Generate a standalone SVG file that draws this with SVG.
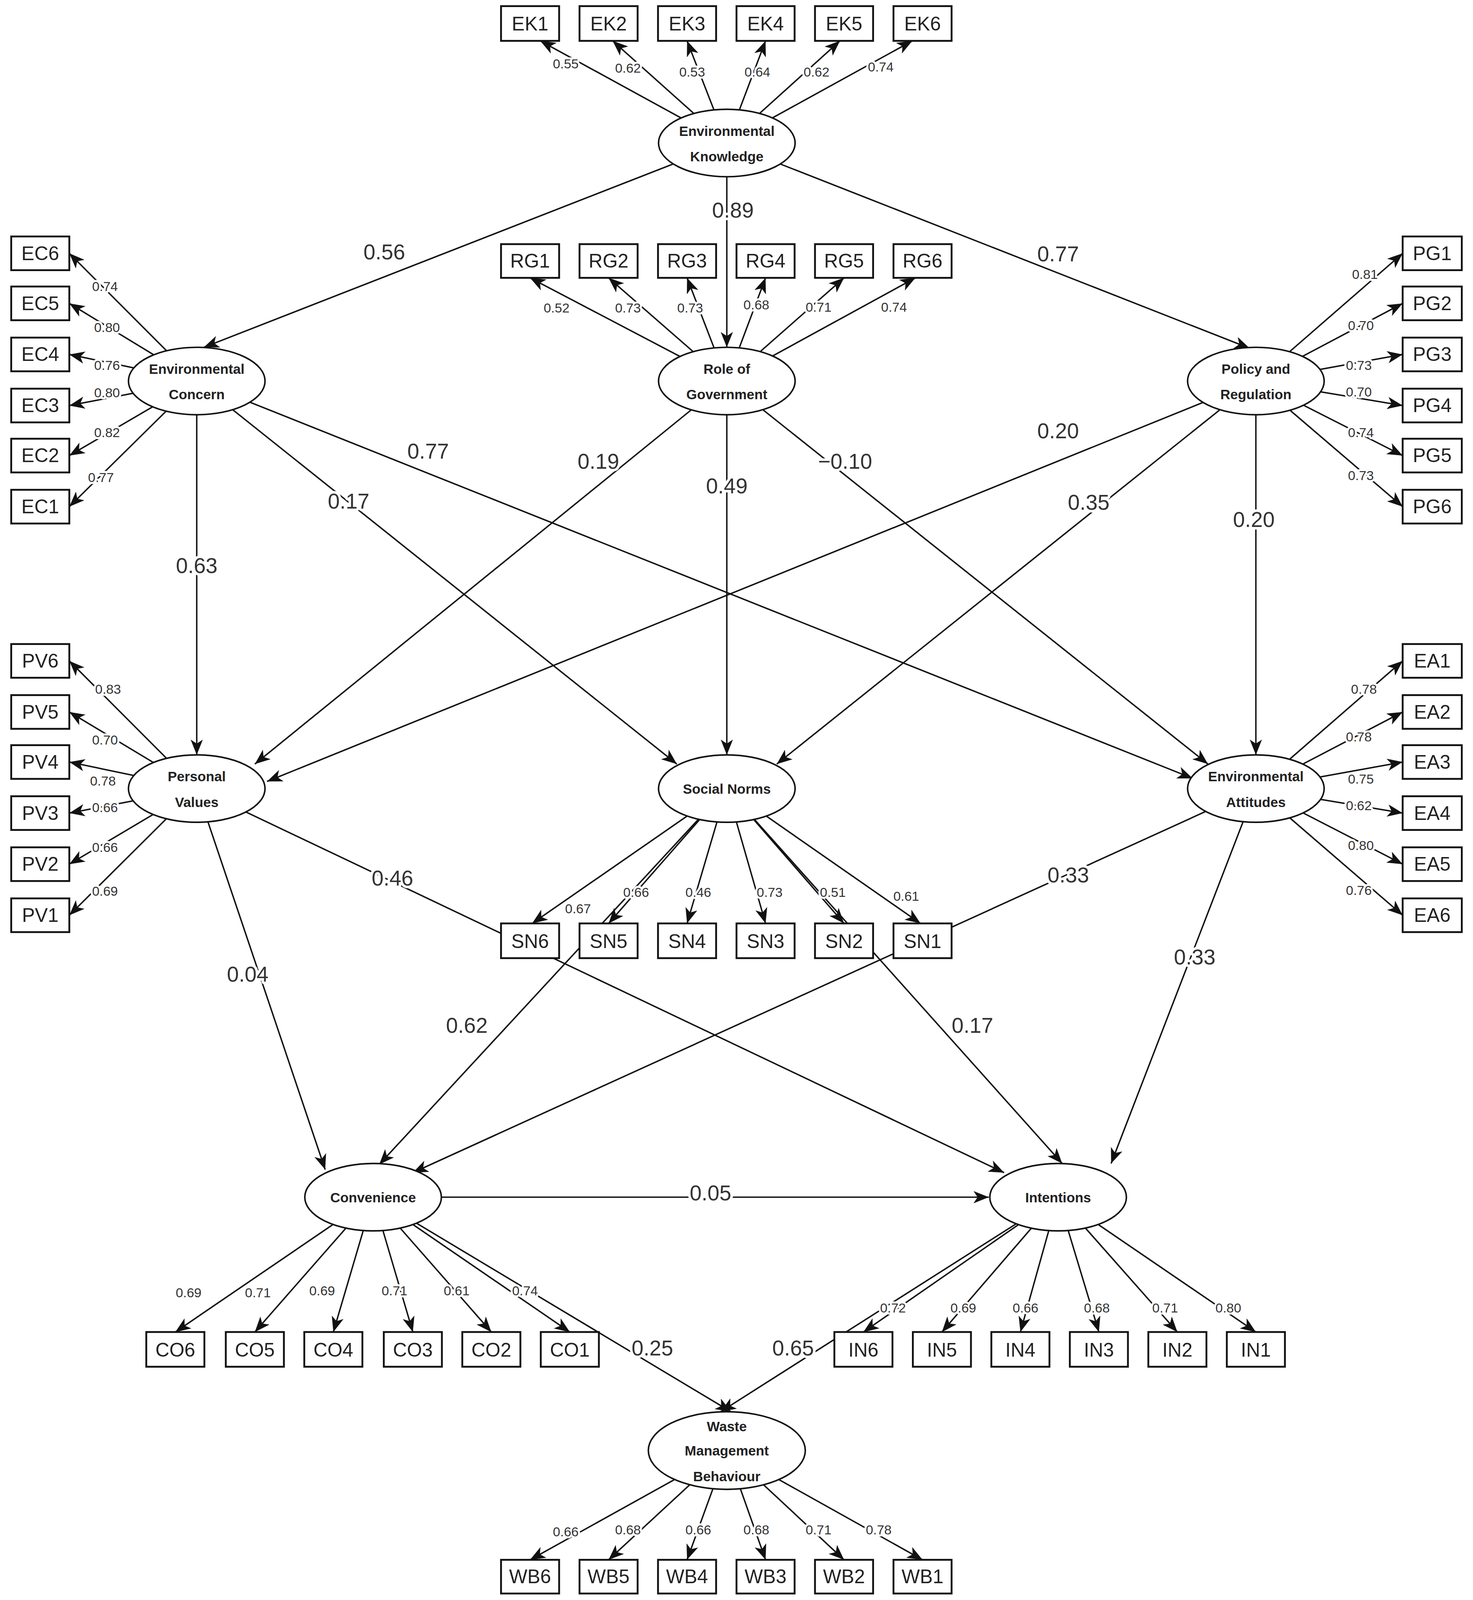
<svg xmlns="http://www.w3.org/2000/svg" width="3770" height="4100" viewBox="0 0 3770 4100">
<style>
.c{stroke:#111;stroke-width:1.4;fill:none;marker-end:url(#a)}
.l{font-family:"Liberation Sans",Arial,sans-serif;font-size:13px;fill:#333;text-anchor:middle;paint-order:stroke;stroke:#fff;stroke-width:4px;stroke-linejoin:round}
.L{font-family:"Liberation Sans",Arial,sans-serif;font-size:21px;fill:#333;text-anchor:middle;paint-order:stroke;stroke:#fff;stroke-width:5px;stroke-linejoin:round}
.b{fill:#fff;stroke:#111;stroke-width:1.8}
.bt{font-family:"Liberation Sans",Arial,sans-serif;font-size:19px;fill:#222;text-anchor:middle}
.e{fill:#fff;stroke:#111;stroke-width:1.5}
.et{font-family:"Liberation Sans",Arial,sans-serif;font-size:13.5px;font-weight:bold;fill:#222;text-anchor:middle}
</style>
<defs><marker id="a" markerUnits="userSpaceOnUse" markerWidth="16" markerHeight="12" refX="15" refY="6" orient="auto"><path d="M0,0 L15,6 L0,12 L4,6 Z" fill="#111"/></marker></defs>
<rect width="3770" height="4100" fill="#fff"/>
<g transform="scale(2.609 2.615)">
<g id="connectors">
<!-- structural -->
<line class="c" x1="713" y1="140" x2="200" y2="340"/><text class="L" x="377" y="254">0.56</text>
<line class="c" x1="713" y1="140" x2="713" y2="340"/><text class="L" x="719" y="213">0.89</text>
<line class="c" x1="713" y1="140" x2="1226" y2="341"/><text class="L" x="1038" y="256">0.77</text>
<line class="c" x1="193" y1="373" x2="193" y2="739"/><text class="L" x="193" y="561">0.63</text>
<line class="c" x1="193" y1="373" x2="664" y2="748"/><text class="L" x="342" y="498">0.17</text>
<line class="c" x1="193" y1="373" x2="1170" y2="762"/><text class="L" x="420" y="449">0.77</text>
<line class="c" x1="713" y1="373" x2="250" y2="748"/><text class="L" x="587" y="459">0.19</text>
<line class="c" x1="713" y1="373" x2="713" y2="739"/><text class="L" x="713" y="483">0.49</text>
<line class="c" x1="713" y1="373" x2="1185" y2="748"/><text class="L" x="829" y="459">−0.10</text>
<line class="c" x1="1232" y1="373" x2="262" y2="765"/><text class="L" x="1038" y="429">0.20</text>
<line class="c" x1="1232" y1="373" x2="762" y2="748"/><text class="L" x="1068" y="499">0.35</text>
<line class="c" x1="1232" y1="373" x2="1232" y2="739"/><text class="L" x="1230" y="516">0.20</text>
<line class="c" x1="193" y1="772" x2="319" y2="1145"/><text class="L" x="243" y="961">0.04</text>
<line class="c" x1="193" y1="772" x2="985" y2="1148"/><text class="L" x="385" y="867">0.46</text>
<line class="c" x1="713" y1="772" x2="372" y2="1140"/><text class="L" x="458" y="1011">0.62</text>
<line class="c" x1="713" y1="772" x2="1042" y2="1139"/><text class="L" x="954" y="1011">0.17</text>
<line class="c" x1="1232" y1="772" x2="405" y2="1148"/><text class="L" x="1048" y="864">0.33</text>
<line class="c" x1="1232" y1="772" x2="1090" y2="1139"/><text class="L" x="1172" y="944">0.33</text>
<line class="c" x1="366" y1="1172" x2="970" y2="1172"/><text class="L" x="697" y="1175">0.05</text>
<line class="c" x1="366" y1="1172" x2="717" y2="1382"/><text class="L" x="640" y="1327">0.25</text>
<line class="c" x1="1038" y1="1172" x2="707" y2="1382"/><text class="L" x="778" y="1327">0.65</text>
<!-- EK -->
<line class="c" x1="713" y1="140" x2="530" y2="40"/><line class="c" x1="713" y1="140" x2="601" y2="40"/><line class="c" x1="713" y1="140" x2="674" y2="40"/><line class="c" x1="713" y1="140" x2="751" y2="40"/><line class="c" x1="713" y1="140" x2="824" y2="40"/><line class="c" x1="713" y1="140" x2="895" y2="40"/>
<text class="l" x="555" y="67">0.55</text><text class="l" x="616" y="71">0.62</text><text class="l" x="679" y="75">0.53</text><text class="l" x="743" y="75">0.64</text><text class="l" x="801" y="75">0.62</text><text class="l" x="864" y="70">0.74</text>
<!-- RG -->
<line class="c" x1="713" y1="373" x2="520" y2="272"/><line class="c" x1="713" y1="373" x2="597" y2="272"/><line class="c" x1="713" y1="373" x2="674" y2="272"/><line class="c" x1="713" y1="373" x2="751" y2="272"/><line class="c" x1="713" y1="373" x2="828" y2="272"/><line class="c" x1="713" y1="373" x2="898" y2="272"/>
<text class="l" x="546" y="306">0.52</text><text class="l" x="616" y="306">0.73</text><text class="l" x="677" y="306">0.73</text><text class="l" x="742" y="303">0.68</text><text class="l" x="803" y="305">0.71</text><text class="l" x="877" y="305">0.74</text>
<!-- SN -->
<line class="c" x1="713" y1="772" x2="522" y2="904"/><line class="c" x1="713" y1="772" x2="597" y2="904"/><line class="c" x1="713" y1="772" x2="674" y2="904"/><line class="c" x1="713" y1="772" x2="751" y2="904"/><line class="c" x1="713" y1="772" x2="828" y2="904"/><line class="c" x1="713" y1="772" x2="903" y2="904"/>
<text class="l" x="567" y="894">0.67</text><text class="l" x="624" y="878">0.66</text><text class="l" x="685" y="878">0.46</text><text class="l" x="755" y="878">0.73</text><text class="l" x="817" y="878">0.51</text><text class="l" x="889" y="882">0.61</text>
<!-- WB -->
<line class="c" x1="713" y1="1420" x2="520" y2="1527"/><line class="c" x1="713" y1="1420" x2="597" y2="1527"/><line class="c" x1="713" y1="1420" x2="674" y2="1527"/><line class="c" x1="713" y1="1420" x2="751" y2="1527"/><line class="c" x1="713" y1="1420" x2="828" y2="1527"/><line class="c" x1="713" y1="1420" x2="905" y2="1527"/>
<text class="l" x="555" y="1504">0.66</text><text class="l" x="616" y="1502">0.68</text><text class="l" x="685" y="1502">0.66</text><text class="l" x="742" y="1502">0.68</text><text class="l" x="803" y="1502">0.71</text><text class="l" x="862" y="1502">0.78</text>
<!-- EC -->
<line class="c" x1="193" y1="373" x2="68" y2="248"/><line class="c" x1="193" y1="373" x2="68" y2="297"/><line class="c" x1="193" y1="373" x2="68" y2="347"/><line class="c" x1="193" y1="373" x2="68" y2="397"/><line class="c" x1="193" y1="373" x2="68" y2="446"/><line class="c" x1="193" y1="373" x2="68" y2="496"/>
<text class="l" x="103" y="285">0.74</text><text class="l" x="105" y="325">0.80</text><text class="l" x="105" y="362">0.76</text><text class="l" x="105" y="389">0.80</text><text class="l" x="105" y="428">0.82</text><text class="l" x="99" y="472">0.77</text>
<!-- PV -->
<line class="c" x1="193" y1="772" x2="68" y2="647"/><line class="c" x1="193" y1="772" x2="68" y2="697"/><line class="c" x1="193" y1="772" x2="68" y2="746"/><line class="c" x1="193" y1="772" x2="68" y2="796"/><line class="c" x1="193" y1="772" x2="68" y2="846"/><line class="c" x1="193" y1="772" x2="68" y2="896"/>
<text class="l" x="106" y="679">0.83</text><text class="l" x="103" y="729">0.70</text><text class="l" x="101" y="769">0.78</text><text class="l" x="103" y="795">0.66</text><text class="l" x="103" y="834">0.66</text><text class="l" x="103" y="877">0.69</text>
<!-- PG -->
<line class="c" x1="1232" y1="373" x2="1376" y2="248"/><line class="c" x1="1232" y1="373" x2="1376" y2="297"/><line class="c" x1="1232" y1="373" x2="1376" y2="347"/><line class="c" x1="1232" y1="373" x2="1376" y2="397"/><line class="c" x1="1232" y1="373" x2="1376" y2="446"/><line class="c" x1="1232" y1="373" x2="1376" y2="496"/>
<text class="l" x="1339" y="273">0.81</text><text class="l" x="1335" y="323">0.70</text><text class="l" x="1333" y="362">0.73</text><text class="l" x="1333" y="388">0.70</text><text class="l" x="1335" y="428">0.74</text><text class="l" x="1335" y="470">0.73</text>
<!-- EA -->
<line class="c" x1="1232" y1="772" x2="1376" y2="647"/><line class="c" x1="1232" y1="772" x2="1376" y2="697"/><line class="c" x1="1232" y1="772" x2="1376" y2="746"/><line class="c" x1="1232" y1="772" x2="1376" y2="796"/><line class="c" x1="1232" y1="772" x2="1376" y2="846"/><line class="c" x1="1232" y1="772" x2="1376" y2="896"/>
<text class="l" x="1338" y="679">0.78</text><text class="l" x="1333" y="726">0.78</text><text class="l" x="1335" y="767">0.75</text><text class="l" x="1333" y="793">0.62</text><text class="l" x="1335" y="832">0.80</text><text class="l" x="1333" y="876">0.76</text>
<!-- CO -->
<line class="c" x1="366" y1="1172" x2="172" y2="1304"/><line class="c" x1="366" y1="1172" x2="250" y2="1304"/><line class="c" x1="366" y1="1172" x2="327" y2="1304"/><line class="c" x1="366" y1="1172" x2="405" y2="1304"/><line class="c" x1="366" y1="1172" x2="482" y2="1304"/><line class="c" x1="366" y1="1172" x2="559" y2="1304"/>
<text class="l" x="185" y="1270">0.69</text><text class="l" x="253" y="1270">0.71</text><text class="l" x="316" y="1268">0.69</text><text class="l" x="387" y="1268">0.71</text><text class="l" x="448" y="1268">0.61</text><text class="l" x="515" y="1268">0.74</text>
<!-- IN -->
<line class="c" x1="1038" y1="1172" x2="847" y2="1304"/><line class="c" x1="1038" y1="1172" x2="924" y2="1304"/><line class="c" x1="1038" y1="1172" x2="1001" y2="1304"/><line class="c" x1="1038" y1="1172" x2="1078" y2="1304"/><line class="c" x1="1038" y1="1172" x2="1155" y2="1304"/><line class="c" x1="1038" y1="1172" x2="1232" y2="1304"/>
<text class="l" x="876" y="1285">0.72</text><text class="l" x="945" y="1285">0.69</text><text class="l" x="1006" y="1285">0.66</text><text class="l" x="1076" y="1285">0.68</text><text class="l" x="1143" y="1285">0.71</text><text class="l" x="1205" y="1285">0.80</text>
</g>
<g id="EK"><ellipse class="e" cx="713" cy="140" rx="67" ry="33"/><text class="et" x="713" y="133">Environmental</text><text class="et" x="713" y="158">Knowledge</text></g>
<g id="RG"><ellipse class="e" cx="713" cy="373" rx="67" ry="33"/><text class="et" x="713" y="366">Role of</text><text class="et" x="713" y="391">Government</text></g>
<g id="EC"><ellipse class="e" cx="193" cy="373" rx="67" ry="33"/><text class="et" x="193" y="366">Environmental</text><text class="et" x="193" y="391">Concern</text></g>
<g id="PG"><ellipse class="e" cx="1232" cy="373" rx="67" ry="33"/><text class="et" x="1232" y="366">Policy and</text><text class="et" x="1232" y="391">Regulation</text></g>
<g id="PV"><ellipse class="e" cx="193" cy="772" rx="67" ry="33"/><text class="et" x="193" y="765">Personal</text><text class="et" x="193" y="790">Values</text></g>
<g id="SN"><ellipse class="e" cx="713" cy="772" rx="67" ry="33"/><text class="et" x="713" y="777">Social Norms</text></g>
<g id="EA"><ellipse class="e" cx="1232" cy="772" rx="67" ry="33"/><text class="et" x="1232" y="765">Environmental</text><text class="et" x="1232" y="790">Attitudes</text></g>
<g id="CO"><ellipse class="e" cx="366" cy="1172" rx="67" ry="33"/><text class="et" x="366" y="1177">Convenience</text></g>
<g id="IN"><ellipse class="e" cx="1038" cy="1172" rx="67" ry="33"/><text class="et" x="1038" y="1177">Intentions</text></g>
<g id="WB"><ellipse class="e" cx="713" cy="1420" rx="77" ry="38"/><text class="et" x="713" y="1401">Waste</text><text class="et" x="713" y="1425">Management</text><text class="et" x="713" y="1450">Behaviour</text></g>
<g id="indicators">
<g id="EK1"><rect class="b" x="491.5" y="6" width="57" height="34"/><text class="bt" x="520" y="30">EK1</text></g>
<g id="EK2"><rect class="b" x="568.5" y="6" width="57" height="34"/><text class="bt" x="597" y="30">EK2</text></g>
<g id="EK3"><rect class="b" x="645.5" y="6" width="57" height="34"/><text class="bt" x="674" y="30">EK3</text></g>
<g id="EK4"><rect class="b" x="722.5" y="6" width="57" height="34"/><text class="bt" x="751" y="30">EK4</text></g>
<g id="EK5"><rect class="b" x="799.5" y="6" width="57" height="34"/><text class="bt" x="828" y="30">EK5</text></g>
<g id="EK6"><rect class="b" x="876.5" y="6" width="57" height="34"/><text class="bt" x="905" y="30">EK6</text></g>
<g id="RG1"><rect class="b" x="491.5" y="239" width="57" height="33"/><text class="bt" x="520" y="262">RG1</text></g>
<g id="RG2"><rect class="b" x="568.5" y="239" width="57" height="33"/><text class="bt" x="597" y="262">RG2</text></g>
<g id="RG3"><rect class="b" x="645.5" y="239" width="57" height="33"/><text class="bt" x="674" y="262">RG3</text></g>
<g id="RG4"><rect class="b" x="722.5" y="239" width="57" height="33"/><text class="bt" x="751" y="262">RG4</text></g>
<g id="RG5"><rect class="b" x="799.5" y="239" width="57" height="33"/><text class="bt" x="828" y="262">RG5</text></g>
<g id="RG6"><rect class="b" x="876.5" y="239" width="57" height="33"/><text class="bt" x="905" y="262">RG6</text></g>
<g id="SN6"><rect class="b" x="491.5" y="904" width="57" height="34"/><text class="bt" x="520" y="928">SN6</text></g>
<g id="SN5"><rect class="b" x="568.5" y="904" width="57" height="34"/><text class="bt" x="597" y="928">SN5</text></g>
<g id="SN4"><rect class="b" x="645.5" y="904" width="57" height="34"/><text class="bt" x="674" y="928">SN4</text></g>
<g id="SN3"><rect class="b" x="722.5" y="904" width="57" height="34"/><text class="bt" x="751" y="928">SN3</text></g>
<g id="SN2"><rect class="b" x="799.5" y="904" width="57" height="34"/><text class="bt" x="828" y="928">SN2</text></g>
<g id="SN1"><rect class="b" x="876.5" y="904" width="57" height="34"/><text class="bt" x="905" y="928">SN1</text></g>
<g id="WB6"><rect class="b" x="491.5" y="1527" width="57" height="33"/><text class="bt" x="520" y="1550">WB6</text></g>
<g id="WB5"><rect class="b" x="568.5" y="1527" width="57" height="33"/><text class="bt" x="597" y="1550">WB5</text></g>
<g id="WB4"><rect class="b" x="645.5" y="1527" width="57" height="33"/><text class="bt" x="674" y="1550">WB4</text></g>
<g id="WB3"><rect class="b" x="722.5" y="1527" width="57" height="33"/><text class="bt" x="751" y="1550">WB3</text></g>
<g id="WB2"><rect class="b" x="799.5" y="1527" width="57" height="33"/><text class="bt" x="828" y="1550">WB2</text></g>
<g id="WB1"><rect class="b" x="876.5" y="1527" width="57" height="33"/><text class="bt" x="905" y="1550">WB1</text></g>
<g id="EC6"><rect class="b" x="11" y="231.5" width="57" height="33"/><text class="bt" x="39.5" y="254.5">EC6</text></g>
<g id="EC5"><rect class="b" x="11" y="280.5" width="57" height="33"/><text class="bt" x="39.5" y="303.5">EC5</text></g>
<g id="EC4"><rect class="b" x="11" y="330.5" width="57" height="33"/><text class="bt" x="39.5" y="353.5">EC4</text></g>
<g id="EC3"><rect class="b" x="11" y="380.5" width="57" height="33"/><text class="bt" x="39.5" y="403.5">EC3</text></g>
<g id="EC2"><rect class="b" x="11" y="429.5" width="57" height="33"/><text class="bt" x="39.5" y="452.5">EC2</text></g>
<g id="EC1"><rect class="b" x="11" y="479.5" width="57" height="33"/><text class="bt" x="39.5" y="502.5">EC1</text></g>
<g id="PV6"><rect class="b" x="11" y="630.5" width="57" height="33"/><text class="bt" x="39.5" y="653.5">PV6</text></g>
<g id="PV5"><rect class="b" x="11" y="680.5" width="57" height="33"/><text class="bt" x="39.5" y="703.5">PV5</text></g>
<g id="PV4"><rect class="b" x="11" y="729.5" width="57" height="33"/><text class="bt" x="39.5" y="752.5">PV4</text></g>
<g id="PV3"><rect class="b" x="11" y="779.5" width="57" height="33"/><text class="bt" x="39.5" y="802.5">PV3</text></g>
<g id="PV2"><rect class="b" x="11" y="829.5" width="57" height="33"/><text class="bt" x="39.5" y="852.5">PV2</text></g>
<g id="PV1"><rect class="b" x="11" y="879.5" width="57" height="33"/><text class="bt" x="39.5" y="902.5">PV1</text></g>
<g id="PG1"><rect class="b" x="1376" y="231.5" width="58" height="33"/><text class="bt" x="1405" y="254.5">PG1</text></g>
<g id="PG2"><rect class="b" x="1376" y="280.5" width="58" height="33"/><text class="bt" x="1405" y="303.5">PG2</text></g>
<g id="PG3"><rect class="b" x="1376" y="330.5" width="58" height="33"/><text class="bt" x="1405" y="353.5">PG3</text></g>
<g id="PG4"><rect class="b" x="1376" y="380.5" width="58" height="33"/><text class="bt" x="1405" y="403.5">PG4</text></g>
<g id="PG5"><rect class="b" x="1376" y="429.5" width="58" height="33"/><text class="bt" x="1405" y="452.5">PG5</text></g>
<g id="PG6"><rect class="b" x="1376" y="479.5" width="58" height="33"/><text class="bt" x="1405" y="502.5">PG6</text></g>
<g id="EA1"><rect class="b" x="1376" y="630.5" width="58" height="33"/><text class="bt" x="1405" y="653.5">EA1</text></g>
<g id="EA2"><rect class="b" x="1376" y="680.5" width="58" height="33"/><text class="bt" x="1405" y="703.5">EA2</text></g>
<g id="EA3"><rect class="b" x="1376" y="729.5" width="58" height="33"/><text class="bt" x="1405" y="752.5">EA3</text></g>
<g id="EA4"><rect class="b" x="1376" y="779.5" width="58" height="33"/><text class="bt" x="1405" y="802.5">EA4</text></g>
<g id="EA5"><rect class="b" x="1376" y="829.5" width="58" height="33"/><text class="bt" x="1405" y="852.5">EA5</text></g>
<g id="EA6"><rect class="b" x="1376" y="879.5" width="58" height="33"/><text class="bt" x="1405" y="902.5">EA6</text></g>
<g id="CO6"><rect class="b" x="143.5" y="1304" width="57" height="34"/><text class="bt" x="172" y="1328">CO6</text></g>
<g id="CO5"><rect class="b" x="221.5" y="1304" width="57" height="34"/><text class="bt" x="250" y="1328">CO5</text></g>
<g id="CO4"><rect class="b" x="298.5" y="1304" width="57" height="34"/><text class="bt" x="327" y="1328">CO4</text></g>
<g id="CO3"><rect class="b" x="376.5" y="1304" width="57" height="34"/><text class="bt" x="405" y="1328">CO3</text></g>
<g id="CO2"><rect class="b" x="453.5" y="1304" width="57" height="34"/><text class="bt" x="482" y="1328">CO2</text></g>
<g id="CO1"><rect class="b" x="530.5" y="1304" width="57" height="34"/><text class="bt" x="559" y="1328">CO1</text></g>
<g id="IN6"><rect class="b" x="818.5" y="1304" width="57" height="34"/><text class="bt" x="847" y="1328">IN6</text></g>
<g id="IN5"><rect class="b" x="895.5" y="1304" width="57" height="34"/><text class="bt" x="924" y="1328">IN5</text></g>
<g id="IN4"><rect class="b" x="972.5" y="1304" width="57" height="34"/><text class="bt" x="1001" y="1328">IN4</text></g>
<g id="IN3"><rect class="b" x="1049.5" y="1304" width="57" height="34"/><text class="bt" x="1078" y="1328">IN3</text></g>
<g id="IN2"><rect class="b" x="1126.5" y="1304" width="57" height="34"/><text class="bt" x="1155" y="1328">IN2</text></g>
<g id="IN1"><rect class="b" x="1203.5" y="1304" width="57" height="34"/><text class="bt" x="1232" y="1328">IN1</text></g>
</g>
</g>
</svg>
